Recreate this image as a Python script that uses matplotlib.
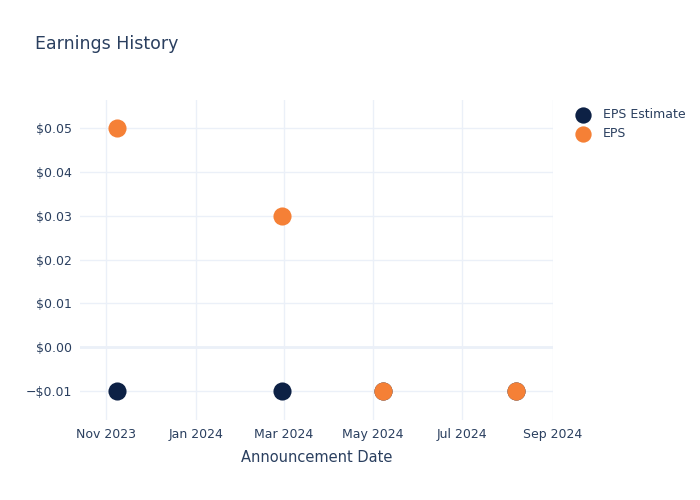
import matplotlib
matplotlib.use("Agg")
import matplotlib.pyplot as plt
import matplotlib.dates as mdates
from matplotlib.ticker import FuncFormatter
import datetime as dt

# announcement dates and values
dates = ["2023-11-08", "2024-02-29", "2024-05-08", "2024-08-07"]
eps_estimate = [-0.01, -0.01, -0.01, -0.01]
eps_actual = [0.05, 0.03, -0.01, -0.01]

tick_dates = ["2023-11-01", "2024-01-01", "2024-03-01", "2024-05-01", "2024-07-01", "2024-09-01"]
y_ticks = [-0.01, 0.0, 0.01, 0.02, 0.03, 0.04, 0.05]

text_col = "#2a3f5f"
grid_col = "#ebf0f8"

def main():
    x = [dt.datetime.fromisoformat(d) for d in dates]
    fig = plt.figure(figsize=(7, 5), dpi=100)
    ax = fig.add_axes([80/700, 80/500, 473/700, 320/500])

    for s in ax.spines.values():
        s.set_visible(False)
    ax.set_xlim(dt.datetime(2023, 10, 14), dt.datetime(2024, 9, 1))
    ax.set_ylim(-0.0166, 0.0564)

    ax.set_xticks([dt.datetime.fromisoformat(d) for d in tick_dates])
    ax.xaxis.set_major_formatter(mdates.DateFormatter("%b %Y"))
    ax.set_yticks(y_ticks)
    ax.yaxis.set_major_formatter(FuncFormatter(
        lambda v, p: ("\u2212$%.2f" % abs(v)) if v < -1e-9 else "$%.2f" % abs(v)))
    ax.grid(True, color=grid_col, linewidth=1)
    ax.axhline(0, color=grid_col, linewidth=2, zorder=1)
    ax.tick_params(length=0, labelsize=9, colors=text_col, pad=6)
    ax.set_axisbelow(True)

    ax.scatter(x, eps_estimate, s=170, color="#0d2145", label="EPS Estimate", zorder=3, linewidths=0)
    ax.scatter(x, eps_actual, s=170, color="#f58036", label="EPS", zorder=4, linewidths=0)

    ax.set_xlabel("Announcement Date", fontsize=10.5, color=text_col, labelpad=6)
    fig.text(35/700, 1 - 44/500, "Earnings History", fontsize=12.5, color=text_col, va="center")

    leg = ax.legend(loc="upper left", bbox_to_anchor=(559/700, 1 - 97/500),
                    bbox_transform=fig.transFigure, frameon=False, fontsize=9,
                    handletextpad=0.6, labelspacing=0.45, markerscale=0.9)
    for t in leg.get_texts():
        t.set_color(text_col)

    fig.savefig("out.png", dpi=100)

if __name__ == "__main__":
    main()
